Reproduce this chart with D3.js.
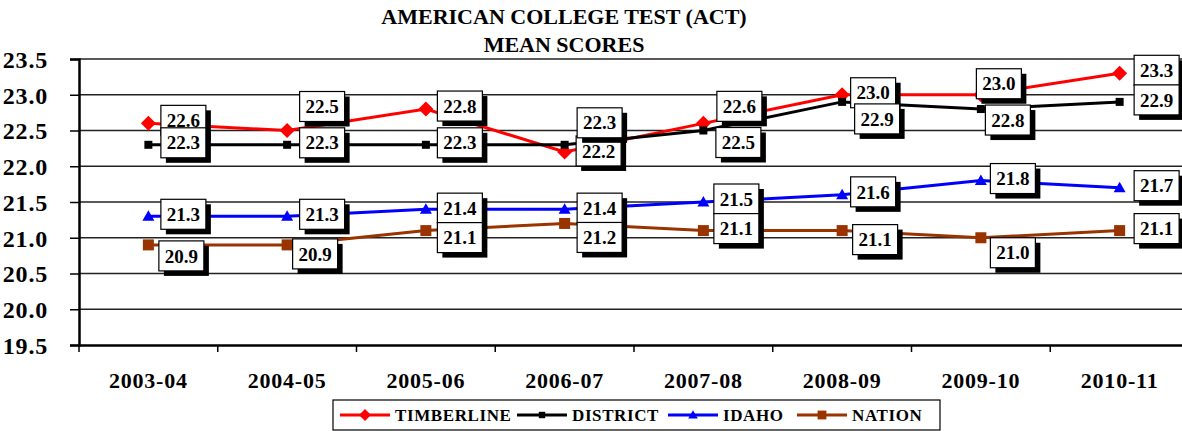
<!DOCTYPE html>
<html>
<head>
<meta charset="utf-8">
<script src="https://cdn.jsdelivr.net/npm/d3@7"></script>
<style>
  body { margin: 0; background: #fff; }
</style>
</head>
<body>
<div id="chart"></div>
<script>
// ACT mean scores by school year

let years = ["2003-04", "2004-05", "2005-06", "2006-07", "2007-08", "2008-09", "2009-10", "2010-11"];
let timberline = [22.6, 22.5, 22.8, 22.2, 22.6, 23.0, 23.0, 23.3];
let district   = [22.3, 22.3, 22.3, 22.3, 22.5, 22.9, 22.8, 22.9];
let idaho      = [21.3, 21.3, 21.4, 21.4, 21.5, 21.6, 21.8, 21.7];
let nation     = [20.9, 20.9, 21.1, 21.2, 21.1, 21.1, 21.0, 21.1];
let yTicks = [19.5, 20.0, 20.5, 21.0, 21.5, 22.0, 22.5, 23.0, 23.5];

// hand placed label nudges (dx, dy from the marker), like the original
let nudgeTimberline = [[35,-3],[35,-24],[34,-3],[34,-1],[36,-17],[31,-2],[18,-11],[37,-3]];
let nudgeDistrict   = [[35,-2],[35,-2],[34,-2],[35,-22],[35,12],[35,17],[27,11],[37,-2]];
let nudgeIdaho      = [[35,-2],[35,-2],[34,-1],[35,-1],[33,-3],[31,-3],[32,-2],[37,-2]];
let nudgeNation     = [[33,11],[28,9],[34,7],[35,14],[33,-2],[33,9],[32,15],[37,-2]];

let series = [
  {name: "TIMBERLINE", values: timberline, color: "#ff0000", marker: "diamond", nudge: nudgeTimberline},
  {name: "DISTRICT",   values: district,   color: "#000000", marker: "smallsquare", nudge: nudgeDistrict},
  {name: "IDAHO",      values: idaho,      color: "#0000ff", marker: "triangle", nudge: nudgeIdaho},
  {name: "NATION",     values: nation,     color: "#993300", marker: "square", nudge: nudgeNation}
];

let font = "'Liberation Serif', 'Times New Roman', serif";
let width = 1182, height = 431;
let plotLeft = 79, plotTop = 59, plotBottom = 345;

let svg = d3.select("#chart").append("svg")
    .attr("width", width)
    .attr("height", height);

let x = d3.scaleBand().domain(years).range([plotLeft, 1189]);
let y = d3.scaleLinear().domain([19.5, 23.5]).range([plotBottom, plotTop]);
let cx = d => x(d) + x.bandwidth() / 2;

function boldText(sel, size) {
  return sel.attr("font-family", font)
    .attr("font-weight", "bold")
    .attr("font-size", size)
    .attr("fill", "#000");
}

// title
svg.append("text")
    .attr("x", 564).attr("y", 24)
    .attr("text-anchor", "middle")
    .call(boldText, 22)
    .text("AMERICAN COLLEGE TEST (ACT)");
svg.append("text")
    .attr("x", 564).attr("y", 52)
    .attr("text-anchor", "middle")
    .call(boldText, 22)
    .text("MEAN SCORES");

// gridlines
svg.append("g")
  .selectAll("line")
  .data(yTicks.slice(1))
  .enter().append("line")
    .attr("x1", plotLeft).attr("x2", width)
    .attr("y1", d => y(d)).attr("y2", d => y(d))
    .attr("stroke", "#222")
    .attr("stroke-width", 1.3);

// y axis
let yAxis = svg.append("g")
    .attr("transform", "translate(" + plotLeft + ",0)")
    .call(d3.axisLeft(y).tickValues(yTicks).tickFormat(d3.format(".1f")).tickSize(9).tickPadding(22));
yAxis.select(".domain").attr("stroke-width", 2.5);
yAxis.selectAll(".tick line").attr("stroke-width", 1.5);
yAxis.selectAll("text")
    .call(boldText, 24)
    .attr("letter-spacing", 0.8)
    .attr("dy", "0.35em");

// x axis
let xAxis = svg.append("g")
    .attr("transform", "translate(0," + plotBottom + ")")
    .call(d3.axisBottom(x).tickSize(0).tickPadding(27));
xAxis.select(".domain").attr("stroke-width", 2.5);
xAxis.selectAll("text")
    .call(boldText, 22)
    .attr("letter-spacing", 0.8);
svg.append("g")
  .selectAll("line")
  .data(years)
  .enter().append("line")
    .attr("x1", d => x(d)).attr("x2", d => x(d))
    .attr("y1", plotBottom).attr("y2", plotBottom + 7)
    .attr("stroke", "#000")
    .attr("stroke-width", 1.5);

function drawMarker(g, type, color, px, py, scale) {
  scale = scale || 1;
  if (type === "diamond") {
    let r = 7.5 * scale;
    g.append("path")
      .attr("d", `M${px},${py - r}L${px + r},${py}L${px},${py + r}L${px - r},${py}Z`)
      .attr("fill", color);
  } else if (type === "smallsquare") {
    let s = 8 * scale;
    g.append("rect").attr("x", px - s / 2).attr("y", py - s / 2)
      .attr("width", s).attr("height", s).attr("fill", color);
  } else if (type === "square") {
    let s = 11 * scale;
    g.append("rect").attr("x", px - s / 2).attr("y", py - s / 2)
      .attr("width", s).attr("height", s).attr("fill", color);
  } else if (type === "triangle") {
    let r = 6 * scale;
    g.append("path")
      .attr("d", `M${px},${py - r}L${px + r},${py + r * 0.75}L${px - r},${py + r * 0.75}Z`)
      .attr("fill", color);
  }
}

// lines + markers
let line = d3.line()
    .x((d, i) => cx(years[i]))
    .y(d => y(d));

series.forEach(s => {
  let g = svg.append("g");
  g.append("path")
    .attr("d", line(s.values))
    .attr("fill", "none")
    .attr("stroke", s.color)
    .attr("stroke-width", 3);
  s.values.forEach((v, i) => drawMarker(g, s.marker, s.color, cx(years[i]), y(v)));
});

// data labels with drop shadow
let boxW = 45, boxH = 30, shadow = 5;
series.forEach(s => {
  let g = svg.append("g");
  s.values.forEach((v, i) => {
    let bx = cx(years[i]) + s.nudge[i][0];
    let by = y(v) + s.nudge[i][1];
    g.append("rect")
      .attr("x", bx - boxW / 2 + shadow).attr("y", by - boxH / 2 + shadow)
      .attr("width", boxW).attr("height", boxH)
      .attr("fill", "#000");
    g.append("rect")
      .attr("x", bx - boxW / 2).attr("y", by - boxH / 2)
      .attr("width", boxW).attr("height", boxH)
      .attr("fill", "#fff")
      .attr("stroke", "#000")
      .attr("stroke-width", 1.2);
    g.append("text")
      .attr("x", bx).attr("y", by)
      .attr("dy", "0.35em")
      .attr("text-anchor", "middle")
      .call(boldText, 19)
      .text(v.toFixed(1));
  });
});

// legend
let legend = svg.append("g");
legend.append("rect")
    .attr("x", 333).attr("y", 400)
    .attr("width", 607).attr("height", 30)
    .attr("fill", "#fff")
    .attr("stroke", "#000")
    .attr("stroke-width", 1.2);
let legendX = [340, 517, 668, 797];
series.forEach((s, i) => {
  let lx = legendX[i], ly = 415;
  legend.append("line")
    .attr("x1", lx).attr("x2", lx + 50)
    .attr("y1", ly).attr("y2", ly)
    .attr("stroke", s.color)
    .attr("stroke-width", 3);
  drawMarker(legend, s.marker, s.color, lx + 25, ly, 0.8);
  legend.append("text")
    .attr("x", lx + 55).attr("y", ly)
    .attr("dy", "0.35em")
    .call(boldText, 17)
    .attr("letter-spacing", 0.6)
    .text(s.name);
});
</script>
</body>
</html>
